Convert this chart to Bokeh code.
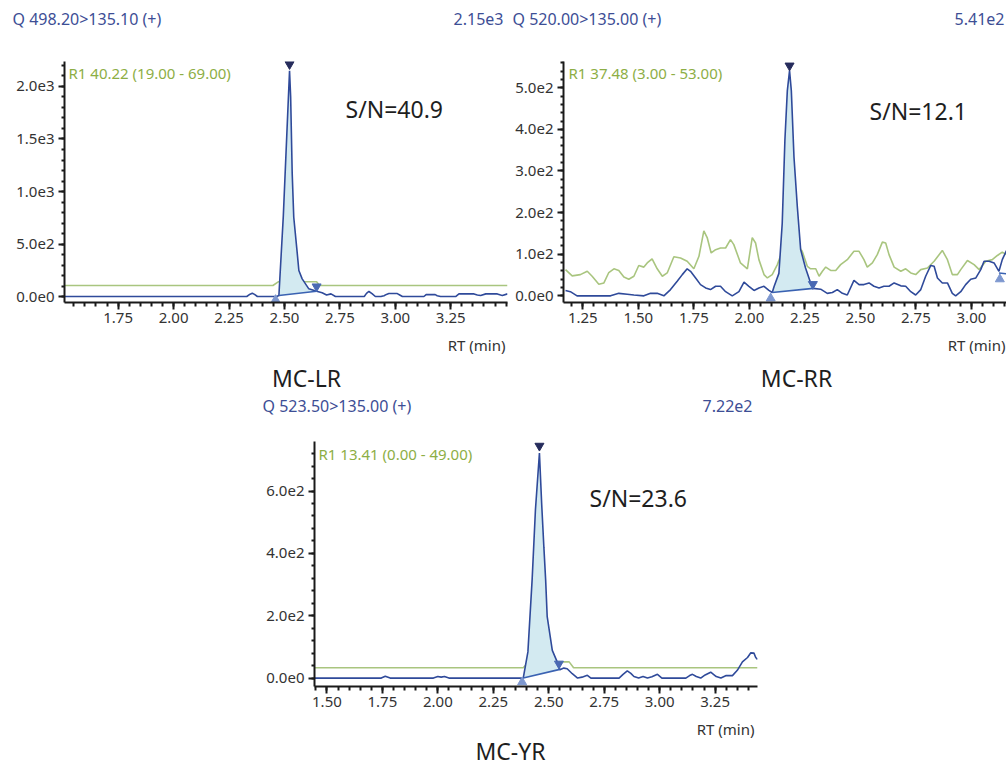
import numpy as np
from bokeh.plotting import figure
from bokeh.models import Label, FixedTicker, CustomJSTickFormatter, PrintfTickFormatter, Range1d, Spacer
from bokeh.layouts import row, column
from bokeh.embed import file_html
from bokeh.resources import INLINE

FONT = "Noto Sans"
BLUE = "#2f4a9a"
BASE_BLUE = "#3a62b2"
GREEN = "#a9c57f"
FILL = "#d3eaf1"
HEAD = "#3d4e95"
RCOL = "#8dae45"
TICK = "#333333"
DARK = "#1e1e1e"

# ---------------- MC-LR ----------------
lr_rt = [1.508, 2.330, 2.345, 2.355, 2.365, 2.378, 2.465, 2.475, 2.495, 2.523, 2.528, 2.535,
         2.542, 2.558, 2.565, 2.580, 2.610, 2.645, 2.670, 2.690, 2.710, 2.730, 2.860, 2.870,
         2.881, 2.895, 2.910, 2.935, 2.949, 2.960, 2.971, 3.009, 3.020, 3.032, 3.129, 3.139,
         3.180, 3.189, 3.204, 3.272, 3.287, 3.355, 3.370, 3.385, 3.408, 3.460, 3.475, 3.483, 3.506]
lr_int = [0, 0, 22, 31, 20, 0, 0, 10, 770, 2150, 1900, 1170, 755, 406, 248, 168, 73, 50,
          35, 14, 25, 0, 0, 30, 48, 28, 0, 0, 8, 20, 28, 28, 15, 0, 0, 18, 18, 8, 0, 0,
          25, 25, 15, 10, 25, 25, 15, 10, 25]
lr_ref_rt = [1.508, 2.448, 2.472, 2.645, 2.658, 3.506]
lr_ref_int = [105, 105, 140, 140, 105, 105]
lr_base_rt = [2.475, 2.645]
lr_base_int = [10, 50]
lr_mark_rt = [2.460, 2.523, 2.645]
lr_mark_int = [-32, 2212, 95]

# ---------------- MC-RR ----------------
rr_rt = [1.172, 1.194, 1.224, 1.375, 1.412, 1.450, 1.480, 1.525, 1.555, 1.585, 1.615, 1.645,
         1.675, 1.698, 1.720, 1.735, 1.758, 1.780, 1.803, 1.825, 1.848, 1.870, 1.893, 1.923,
         1.953, 1.976, 1.998, 2.021, 2.043, 2.066, 2.088, 2.103, 2.111, 2.133, 2.148, 2.160,
         2.171, 2.181, 2.189, 2.201, 2.216, 2.231, 2.253, 2.276, 2.288, 2.321, 2.351, 2.374,
         2.396, 2.419, 2.441, 2.471, 2.494, 2.516, 2.539, 2.561, 2.584, 2.606, 2.629, 2.652,
         2.682, 2.704, 2.727, 2.749, 2.772, 2.794, 2.817, 2.832, 2.847, 2.869, 2.892, 2.914,
         2.929, 2.952, 2.974, 2.997, 3.020, 3.042, 3.057, 3.080, 3.102, 3.124, 3.139, 3.158]
rr_int = [13, 10, 0, 0, 6, 4, 2, 0, 6, 6, 0, 15,
          35, 51, 65, 59, 43, 27, 19, 15, 23, 23, 10, 0,
          10, 33, 23, 13, 19, 23, 13, 8, 22, 54, 174, 373,
          493, 541, 493, 333, 214, 111, 67, 31, 18, 16, 6, 8,
          15, 6, 2, 37, 27, 27, 31, 23, 19, 23, 23, 31,
          24, 23, 10, 2, 15, 47, 73, 71, 43, 31, 31, 6,
          0, 10, 27, 40, 43, 63, 83, 83, 79, 59, 87, 109]
rr_ref_rt = [1.172, 1.202, 1.239, 1.270, 1.292, 1.322, 1.345, 1.367, 1.390, 1.412, 1.435, 1.457,
             1.480, 1.502, 1.525, 1.540, 1.562, 1.585, 1.608, 1.630, 1.660, 1.690, 1.720, 1.750,
             1.773, 1.795, 1.810, 1.828, 1.848, 1.870, 1.893, 1.915, 1.930, 1.960, 1.991, 2.013,
             2.028, 2.043, 2.066, 2.081, 2.103, 2.126, 2.150, 2.185, 2.220, 2.238, 2.261, 2.276,
             2.299, 2.314, 2.329, 2.344, 2.366, 2.389, 2.411, 2.441, 2.471, 2.494, 2.516, 2.531,
             2.554, 2.576, 2.599, 2.614, 2.629, 2.652, 2.682, 2.704, 2.727, 2.749, 2.772, 2.802,
             2.832, 2.869, 2.892, 2.914, 2.937, 2.952, 2.982, 3.012, 3.035, 3.065, 3.094, 3.117,
             3.139, 3.158]
rr_ref_int = [63, 48, 51, 59, 47, 28, 31, 56, 65, 61, 45, 40,
              47, 73, 69, 79, 89, 65, 47, 55, 94, 91, 83, 65,
              95, 156, 140, 103, 111, 115, 115, 135, 123, 79, 65, 140,
              127, 87, 51, 43, 51, 75, 110, 140, 120, 107, 71, 65,
              65, 47, 59, 69, 61, 61, 75, 87, 107, 107, 87, 69,
              79, 99, 129, 127, 99, 69, 59, 65, 55, 51, 63, 67,
              83, 109, 87, 51, 51, 63, 85, 75, 63, 83, 87, 97,
              105, 99]
rr_base_rt = [2.103, 2.288]
rr_base_int = [8, 18]
rr_base2_rt = [3.124, 3.158]
rr_base2_int = [55, 53]
rr_mark_rt = [2.096, 2.181, 2.286, 3.128]
rr_mark_int = [-6, 553, 28, 40]

# ---------------- MC-YR ----------------
yr_rt = [1.444, 1.745, 1.763, 1.785, 1.980, 2.000, 2.015, 2.030, 2.050, 2.385, 2.406, 2.425,
         2.440, 2.458, 2.468, 2.478, 2.486, 2.493, 2.516, 2.538, 2.550, 2.568, 2.583, 2.606,
         2.630, 2.650, 2.674, 2.690, 2.817, 2.835, 2.854, 2.870, 2.884, 2.905, 2.925, 2.945,
         2.965, 2.990, 3.010, 3.118, 3.135, 3.148, 3.165, 3.185, 3.205, 3.230, 3.255, 3.276,
         3.300, 3.328, 3.350, 3.373, 3.396, 3.411, 3.425, 3.433, 3.441]
yr_int = [0, 0, 6, 0, 0, 5, 3, 5, 0, 0, 84, 315,
          540, 722, 560, 420, 315, 197, 89, 52, 27, 32, 30, 14,
          0, 3, 9, 0, 0, 12, 23, 15, 5, 0, 5, 0,
          4, 12, 0, 0, 8, 12, 5, 0, 10, 19, 5, 0,
          8, 8, 25, 52, 66, 81, 80, 66, 60]
yr_ref_rt = [1.444, 2.385, 2.400, 2.545, 2.592, 2.612, 3.441]
yr_ref_int = [33, 33, 45, 52, 52, 33, 33]
yr_base_rt = [2.385, 2.550]
yr_base_int = [0, 28]
yr_mark_rt = [2.380, 2.458, 2.546]
yr_mark_int = [-13, 745, 46]

FMT = CustomJSTickFormatter(code="""
    if (tick == 0) return "0.0e0";
    const e = Math.floor(Math.log10(Math.abs(tick)) + 1e-9);
    const m = tick / Math.pow(10, e);
    return m.toFixed(1) + "e" + e;
""")


def inlab(p, x, y, text, size, color):
    p.add_layout(Label(x=x, y=y, x_units="screen", y_units="screen", text=text,
                       text_font=FONT, text_font_size=size, text_color=color,
                       text_align="left", text_baseline="middle"))


def strip(w, h, items):
    s = figure(width=w, height=h, x_range=Range1d(0, w), y_range=Range1d(h, 0),
               toolbar_location=None, output_backend="svg",
               x_axis_location=None, y_axis_location=None,
               min_border_left=0, min_border_right=0, min_border_top=0, min_border_bottom=0)
    s.outline_line_color = None
    s.grid.visible = False
    s.background_fill_color = "white"
    s.border_fill_color = "white"
    for (x, y, text, size, color, align) in items:
        s.add_layout(Label(x=x, y=y, text=text, text_font=FONT, text_font_size=size,
                           text_color=color, text_align=align, text_baseline="middle"))
    return s


def panel(rt, inten, ref_rt, ref_int, base_rt, base_int, mark_rt, mark_int,
          xr, yr, xmaj, xminor, ymaj, yminor, width, height, bl, br):
    p = figure(width=width, height=height, x_range=Range1d(*xr), y_range=Range1d(*yr),
               toolbar_location=None, output_backend="svg",
               min_border_left=bl, min_border_right=br, min_border_top=0, min_border_bottom=31)
    p.outline_line_color = None
    p.xgrid.visible = False
    p.ygrid.visible = False
    p.background_fill_color = "white"
    p.border_fill_color = "white"

    p.line(ref_rt, ref_int, line_color=GREEN, line_width=1.6)
    rt_a = np.array(rt)
    in_a = np.array(inten)
    m = (rt_a > base_rt[0]) & (rt_a < base_rt[1])
    px = [base_rt[0]] + list(rt_a[m]) + [base_rt[1]]
    py = [base_int[0]] + list(in_a[m]) + [base_int[1]]
    p.patch(px, py, fill_color=FILL, line_color=None)
    p.line(rt, inten, line_color=BLUE, line_width=1.6)
    p.line(base_rt, base_int, line_color=BASE_BLUE, line_width=1.6)
    p.scatter([mark_rt[0]], [mark_int[0]], marker="triangle", size=9,
              fill_color="#7d97cf", line_color="#7d97cf")
    p.scatter([mark_rt[1]], [mark_int[1]], marker="inverted_triangle", size=9,
              fill_color="#262c5c", line_color="#262c5c")
    p.scatter([mark_rt[2]], [mark_int[2]], marker="inverted_triangle", size=9,
              fill_color="#4a69b3", line_color="#4a69b3")

    for ax in (p.xaxis[0], p.yaxis[0]):
        ax.axis_line_width = 2
        ax.axis_line_color = "#1a1a1a"
        ax.major_tick_line_color = "#1a1a1a"
        ax.minor_tick_line_color = "#1a1a1a"
        ax.major_tick_line_width = 2
        ax.minor_tick_line_width = 2
        ax.major_tick_in = 0
        ax.minor_tick_in = 0
        ax.major_label_text_font = FONT
        ax.major_label_text_font_size = "15px"
        ax.major_label_text_color = TICK
    p.xaxis.ticker = FixedTicker(ticks=xmaj, minor_ticks=xminor)
    p.yaxis.ticker = FixedTicker(ticks=ymaj, minor_ticks=yminor)
    p.xaxis.formatter = PrintfTickFormatter(format="%.2f")
    p.yaxis.formatter = FMT
    p.xaxis.major_tick_out = 7
    p.xaxis.minor_tick_out = 4
    p.yaxis.major_tick_out = 6
    p.yaxis.minor_tick_out = 3
    p.xaxis.major_label_standoff = 3
    p.yaxis.major_label_standoff = 4
    return p


# ---- header strip for the top row (page coordinates) ----
h_top = strip(1006, 61, [(12, 18, "Q 498.20>135.10 (+)", "16px", HEAD, "left"),
                         (503, 18, "2.15e3", "16px", HEAD, "right"),
                         (512, 18, "Q 520.00>135.00 (+)", "16px", HEAD, "left"),
                         (1004, 18, "5.41e2", "16px", HEAD, "right")])

# ---- MC-LR ----
p1 = panel(lr_rt, lr_int, lr_ref_rt, lr_ref_int, lr_base_rt, lr_base_int, lr_mark_rt, lr_mark_int,
           (1.508, 3.506), (-57, 2238),
           [1.75, 2.0, 2.25, 2.5, 2.75, 3.0, 3.25], list(np.round(np.arange(1.55, 3.51, 0.05), 2)),
           [0, 500, 1000, 1500, 2000], list(range(0, 2201, 100)),
           511, 272, 64, 4)
inlab(p1, 4, 230, "R1 40.22 (19.00 - 69.00)", "15px", RCOL)
inlab(p1, 281, 194, "S/N=40.9", "23px", DARK)

# ---- MC-RR ----
p2 = panel(rr_rt, rr_int, rr_ref_rt, rr_ref_int, rr_base_rt, rr_base_int, rr_mark_rt, rr_mark_int,
           (1.163, 3.158), (-16, 563),
           [1.25, 1.5, 1.75, 2.0, 2.25, 2.5, 2.75, 3.0], list(np.round(np.arange(1.20, 3.16, 0.05), 2)),
           [0, 100, 200, 300, 400, 500], list(range(0, 561, 20)),
           495, 272, 52, 0)
p2.line(rr_base2_rt, rr_base2_int, line_color=BASE_BLUE, line_width=1.6)
p2.scatter([rr_mark_rt[3]], [rr_mark_int[3]], marker="triangle", size=9,
           fill_color="#7d97cf", line_color="#7d97cf")
inlab(p2, 5, 230, "R1 37.48 (3.00 - 53.00)", "15px", RCOL)
inlab(p2, 306, 192, "S/N=12.1", "23px", DARK)

# ---- footer strip for the top row ----
f_top = strip(1006, 59, [(505, 11, "RT (min)", "15px", TICK, "right"),
                         (306, 44, "MC-LR", "23px", DARK, "center"),
                         (1005, 11, "RT (min)", "15px", TICK, "right"),
                         (796, 44, "MC-RR", "23px", DARK, "center")])

# ---- bottom: MC-YR ----
h_bot = strip(1006, 49, [(262, 13, "Q 523.50>135.00 (+)", "16px", HEAD, "left"),
                         (752, 13, "7.22e2", "16px", HEAD, "right")])
p3 = panel(yr_rt, yr_int, yr_ref_rt, yr_ref_int, yr_base_rt, yr_base_int, yr_mark_rt, yr_mark_int,
           (1.444, 3.441), (-27, 759),
           [1.5, 1.75, 2.0, 2.25, 2.5, 2.75, 3.0, 3.25], list(np.round(np.arange(1.45, 3.44, 0.05), 2)),
           [0, 200, 400, 600], list(range(0, 760, 40)),
           510, 276, 59, 8)
inlab(p3, 4, 233, "R1 13.41 (0.00 - 49.00)", "15px", RCOL)
inlab(p3, 275, 189, "S/N=23.6", "23px", DARK)
f_bot = strip(1006, 49, [(754, 11, "RT (min)", "15px", TICK, "right"),
                         (510, 33, "MC-YR", "23px", DARK, "center")])

layout = column(
    h_top,
    row(p1, p2),
    f_top,
    h_bot,
    row(Spacer(width=255, height=276), p3),
    f_bot,
)
open("out.html", "w").write(file_html(layout, INLINE))
